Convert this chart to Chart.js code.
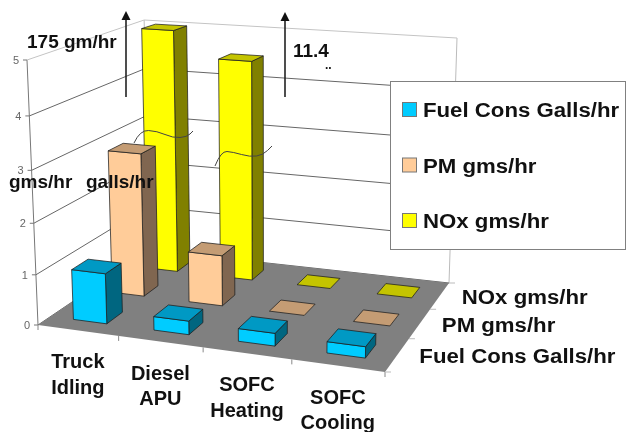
<!DOCTYPE html>
<html>
<head>
<meta charset="utf-8">
<style>
  html, body { margin: 0; padding: 0; background: #fff; }
  canvas { display: block; filter: blur(0.45px); }
</style>
<script src="https://cdn.jsdelivr.net/npm/chart.js@4"></script>
</head>
<body>
<canvas id="myChart" width="626" height="432"></canvas>
<script>
const categories = [['Truck', 'Idling'], ['Diesel', 'APU'], ['SOFC', 'Heating'], ['SOFC', 'Cooling']]
const seriesNames = ['Fuel Cons Galls/hr', 'PM gms/hr', 'NOx gms/hr']
const fuelCons = [1.0, 0.27, 0.25, 0.22]
const pmGms = [2.9, 1.03, 0.01, 0.01]
const noxGms = [5, 4.5, 0.01, 0.01]
const yTicks = [0, 1, 2, 3, 4, 5]

// front, side, top shades per series
const shades = [
  ['#00CCFF', '#006680', '#0099C4'],
  ['#FFCC99', '#806650', '#C49C74'],
  ['#FFFF00', '#808000', '#C4C400'],
]

// the 3D view: floor corners, wall heights at those corners, where the verticals meet
const floorQuad = [[38, 325], [385, 372], [449, 283], [149, 250]]
const wallHeights = [265, 280, 245, 230]
const vanish = [267, 5849]
const riseBend = 0.07

const homography = (q) => {
  const [[x0, y0], [x1, y1], [x2, y2], [x3, y3]] = q
  const dx1 = x1 - x2, dx2 = x3 - x2, sx = x0 - x1 + x2 - x3
  const dy1 = y1 - y2, dy2 = y3 - y2, sy = y0 - y1 + y2 - y3
  const den = dx1 * dy2 - dx2 * dy1
  const g = (sx * dy2 - dx2 * sy) / den
  const h = (dx1 * sy - sx * dy1) / den
  const a = x1 - x0 + g * x1, b = x3 - x0 + h * x3
  const d = y1 - y0 + g * y1, e = y3 - y0 + h * y3
  return (u, w) => {
    const n = g * u + h * w + 1
    return [(a * u + b * w + x0) / n, (d * u + e * w + y0) / n]
  }
}
const floorAt = homography(floorQuad)

// u along categories, w into the depth, v up, all 0..1
const project = (u, w, v) => {
  const [fx, fy] = floorAt(u, w)
  const [h0, h1, h2, h3] = wallHeights
  const full = (h0 * (1 - u) + h1 * u) * (1 - w) + (h3 * (1 - u) + h2 * u) * w
  const rise = full * (v / (1 + riseBend * (1 - v)))
  return [fx + ((fx - vanish[0]) / (vanish[1] - fy)) * rise, fy - rise]
}

const poly = (ctx, pts, fill, stroke, lw = 1) => {
  ctx.beginPath()
  pts.forEach((p, i) => (i ? ctx.lineTo(p[0], p[1]) : ctx.moveTo(p[0], p[1])))
  ctx.closePath()
  if (fill) {
    ctx.fillStyle = fill
    ctx.fill()
  }
  if (stroke) {
    ctx.strokeStyle = stroke
    ctx.lineWidth = lw
    ctx.stroke()
  }
}

const line = (ctx, a, b, color, lw = 1) => {
  ctx.beginPath()
  ctx.moveTo(a[0], a[1])
  ctx.lineTo(b[0], b[1])
  ctx.strokeStyle = color
  ctx.lineWidth = lw
  ctx.stroke()
}

// stretch: the labels in the picture are wider than the font
const text = (ctx, str, x, y, font, color = '#111', align = 'left', stretch = 1) => {
  ctx.save()
  ctx.font = font
  ctx.fillStyle = color
  ctx.textAlign = align
  ctx.textBaseline = 'alphabetic'
  ctx.translate(x, y)
  ctx.scale(stretch, 1)
  ctx.fillText(str, 0, 0)
  ctx.restore()
}

const LABEL_FONT = 'bold 20px "Liberation Sans"'
const NOTE_FONT = 'bold 19px "Liberation Sans"'
const WIDE = 1.11

const drawWalls = (chart) => {
  const { ctx } = chart
  const { x, y, z } = chart.scales

  // side and back wall edges
  line(ctx, project(0, 0, 0), project(0, 0, 1), '#777')
  line(ctx, project(0, 1, 0), project(0, 1, 1), '#bbb')
  line(ctx, project(1, 1, 0), project(1, 1, 1), '#bbb')

  // value gridlines and tick labels
  y.ticks.forEach((t) => {
    const v = y.getDecimalForPixel(y.getPixelForValue(t.value))
    const color = v === 1 ? '#c4c4c4' : '#666'
    line(ctx, project(0, 0, v), project(0, 1, v), color)
    line(ctx, project(0, 1, v), project(1, 1, v), color)
    const p = project(0, 0, v)
    line(ctx, [p[0] - 4, p[1]], p, '#777')
    text(ctx, String(t.value), p[0] - 8, p[1] + 4, '11px "Liberation Sans"', '#666', 'right')
  })

  poly(ctx, [project(0, 0, 0), project(1, 0, 0), project(1, 1, 0), project(0, 1, 0)], '#808080')

  // category ticks and labels along the front edge
  const catEdges = x.ticks.length
  for (let i = 0; i <= catEdges; i++) {
    const p = project(i / catEdges, 0, 0)
    line(ctx, p, [p[0], p[1] + 5], '#888')
  }
  x.ticks.forEach((t, i) => {
    const u = x.getDecimalForPixel(x.getPixelForValue(t.value))
    const p = project(u, 0, 0)
    categories[i].forEach((str, n) => {
      text(ctx, str, p[0], p[1] + 38 + n * 25.5, LABEL_FONT, '#111', 'center')
    })
  })

  // series ticks and labels along the right edge
  const rowEdges = z.ticks.length
  for (let i = 0; i <= rowEdges; i++) {
    const p = project(1, i / rowEdges, 0)
    line(ctx, p, [p[0] + 6, p[1]], '#bbb')
  }
  z.ticks.forEach((t, i) => {
    const w = z.getDecimalForPixel(z.getPixelForValue(t.value))
    const p = project(1, w, 0)
    text(ctx, seriesNames[i], p[0] + 22, p[1] + 8, LABEL_FONT, '#111', 'left', WIDE)
  })
}

const drawBox = (ctx, u0, u1, w0, w1, v, c) => {
  const edge = 'rgba(30,30,30,0.75)'
  const v0 = project(u0, w0, 0), v1 = project(u1, w0, 0), v2 = project(u1, w1, 0)
  const t0 = project(u0, w0, v), t1 = project(u1, w0, v), t2 = project(u1, w1, v), t3 = project(u0, w1, v)
  if (v > 0.01) {
    poly(ctx, [v1, v2, t2, t1], c[1], edge)
    poly(ctx, [v0, v1, t1, t0], c[0], edge)
  }
  poly(ctx, [t0, t1, t2, t3], c[2], edge)
}

const drawBars = (chart) => {
  const { ctx } = chart
  const { x, y, z } = chart.scales
  const rowDepth = 0.135
  // NOx row first, it is at the back
  for (let ds = chart.data.datasets.length - 1; ds >= 0; ds--) {
    const w = z.getDecimalForPixel(z.getPixelForValue(ds))
    chart.getDatasetMeta(ds).data.forEach((el) => {
      const props = el.getProps(['x', 'y', 'width'], true)
      const u0 = x.getDecimalForPixel(props.x - props.width / 2)
      const u1 = x.getDecimalForPixel(props.x + props.width / 2)
      drawBox(ctx, u0, u1, w - rowDepth / 2, w + rowDepth / 2, y.getDecimalForPixel(props.y), shades[ds])
    })
  }
}

const arrow = (ctx, px, yFrom, yTo) => {
  line(ctx, [px, yFrom], [px, yTo + 6], '#222', 1.6)
  poly(ctx, [[px, yTo], [px - 4.5, yTo + 9], [px + 4.5, yTo + 9]], '#111')
}

const squiggle = (ctx, pts) => {
  ctx.beginPath()
  ctx.moveTo(pts[0][0], pts[0][1])
  for (let i = 1; i < pts.length - 1; i++) {
    const mx = (pts[i][0] + pts[i + 1][0]) / 2
    const my = (pts[i][1] + pts[i + 1][1]) / 2
    ctx.quadraticCurveTo(pts[i][0], pts[i][1], mx, my)
  }
  const last = pts[pts.length - 1]
  ctx.lineTo(last[0], last[1])
  ctx.strokeStyle = '#444'
  ctx.lineWidth = 1
  ctx.stroke()
}

const drawNotes = (chart) => {
  const { ctx } = chart
  arrow(ctx, 126, 97, 11)
  arrow(ctx, 285, 97, 12)
  text(ctx, '175 gm/hr', 27, 48, NOTE_FONT)
  text(ctx, '11.4', 293, 57, NOTE_FONT)
  text(ctx, '..', 325, 69, 'bold 12px "Liberation Sans"')
  text(ctx, 'gms/hr', 9, 188, NOTE_FONT)
  text(ctx, 'galls/hr', 86, 188, NOTE_FONT)
  squiggle(ctx, [[134, 143], [140, 130], [157, 131], [173, 138], [187, 137], [193, 131]])
  squiggle(ctx, [[215, 166], [221, 151], [233, 152], [250, 157], [263, 155], [272, 146]])
}

const drawLegend = (chart) => {
  const { ctx } = chart
  ctx.fillStyle = '#fff'
  ctx.fillRect(390.5, 81.5, 235, 168)
  ctx.strokeStyle = '#808080'
  ctx.lineWidth = 1
  ctx.strokeRect(390.5, 81.5, 235, 168)
  chart.data.datasets.forEach((ds, i) => {
    const rowY = 117 + i * 55.5
    ctx.fillStyle = shades[i][0]
    ctx.fillRect(402.5, rowY - 14.5, 14, 14)
    ctx.strokeStyle = '#777'
    ctx.strokeRect(402.5, rowY - 14.5, 14, 14)
    text(ctx, ds.label, 423, rowY, LABEL_FONT, '#111', 'left', WIDE)
  })
}

const box3d = {
  id: 'box3d',
  beforeDatasetsDraw(chart) {
    drawWalls(chart)
    drawBars(chart)
    drawLegend(chart)
    drawNotes(chart)
    return false
  },
}

new Chart(document.getElementById('myChart'), {
  type: 'bar',
  data: {
    labels: categories,
    datasets: [
      { label: seriesNames[0], data: fuelCons },
      { label: seriesNames[1], data: pmGms },
      { label: seriesNames[2], data: noxGms },
    ],
  },
  options: {
    responsive: false,
    animation: false,
    datasets: { bar: { grouped: false, barPercentage: 0.42, categoryPercentage: 1 } },
    layout: { padding: 0 },
    plugins: { legend: { display: false }, tooltip: { enabled: false } },
    scales: {
      x: { display: false },
      y: { display: false, min: yTicks[0], max: yTicks[yTicks.length - 1], ticks: { stepSize: 1 } },
      z: { display: false, type: 'category', axis: 'x', position: 'bottom', labels: seriesNames, offset: true },
    },
  },
  plugins: [box3d],
})
</script>
</body>
</html>
